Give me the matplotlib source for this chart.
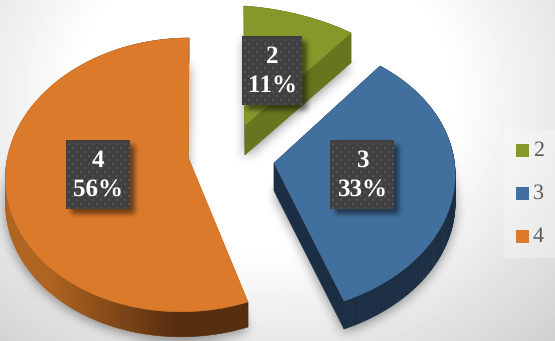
import numpy as np
import matplotlib
matplotlib.use('Agg')
import matplotlib.pyplot as plt
from matplotlib.path import Path
from matplotlib.patches import Polygon, Rectangle

plt.rcParams['text.hinting'] = 'no_hinting'
plt.rcParams['text.hinting_factor'] = 1

# chart data
categories = ['2', '3', '4']
shares = [11, 33, 56]

top_colors = ['#85992b', '#42709e', '#dc7a2b']
W, H = 555, 341

# pixel anchors of each slice: apex, arc start, arc middle, arc end
anchors = [
    [(245, 125), (244, 6), (300, 15), (351, 33)],
    [(274, 163), (380, 66), (454, 190), (344, 301)],
    [(188, 157), (248, 302), (8, 201), (189, 38)],
]
depths = [30, 28, 25]
boxes = [(242, 36, 60, 69), (330, 140, 64, 69), (66, 140, 64, 69)]
side_cut = ['#66761f', '#1b2e43', '#b5661f']
rim_light = ['#66761f', '#1b2e43', '#b0641f']
rim_dark = ['#66761f', '#1b2e43', '#562d0f']


def slice_outline(start, end, pts):
    # ellipse through three rim points; angles run clockwise from twelve o'clock
    ang = np.radians([start, (start + end) / 2, end])
    basis = np.column_stack([np.ones(3), np.sin(ang), np.cos(ang)])
    coef = np.linalg.solve(basis, np.array(pts[1:], float))
    t = np.radians(np.linspace(start, end, 160))
    return np.column_stack([np.ones_like(t), np.sin(t), np.cos(t)]) @ coef


def blur(a, r, passes=3):
    for axis in (0, 1):
        for _ in range(passes):
            pad = [(r + 1, r), (0, 0)] if axis == 0 else [(0, 0), (r + 1, r)]
            c = np.cumsum(np.pad(a, pad, mode='edge'), axis=axis)
            if axis == 0:
                a = (c[2 * r + 1:, :] - c[:-2 * r - 1, :]) / (2 * r + 1)
            else:
                a = (c[:, 2 * r + 1:] - c[:, :-2 * r - 1]) / (2 * r + 1)
    return a


xx, yy = np.meshgrid(np.arange(W) + .5, np.arange(H) + .5)
grid = np.column_stack([xx.ravel(), yy.ravel()])


def mask_of(poly):
    return Path(poly).contains_points(grid).reshape(H, W).astype(float)


def draw_shadow(ax, mask, alpha, z):
    rgba = np.zeros((H, W, 4))
    rgba[..., 3] = np.clip(mask, 0, 1) * alpha
    ax.imshow(rgba, extent=(0, W, H, 0), zorder=z, aspect='auto', interpolation='bilinear')


fig = plt.figure(figsize=(W / 100, H / 100), dpi=100)
ax = fig.add_axes([0, 0, 1, 1])

# white glow in the middle fading to grey corners
r = np.sqrt(((xx - 265) / 300) ** 2 + ((yy - 95) / 250) ** 2)
bg = 255 - np.clip((r - .62) * 62, 0, 48)
ax.imshow(bg, extent=(0, W, H, 0), cmap='gray', vmin=0, vmax=255, zorder=0, aspect='auto')

# slice angles from the shares
total = float(sum(shares))
starts = [0.0]
for s in shares:
    starts.append(starts[-1] + 360.0 * s / total)

outlines = []
for i in range(len(shares)):
    outlines.append(slice_outline(starts[i], starts[i + 1], anchors[i]))

# soft shadow under the whole pie
shadow = np.zeros((H, W))
for i, arc in enumerate(outlines):
    poly = np.vstack([anchors[i][0], arc]) + [0, depths[i] + 3]
    shadow = np.maximum(shadow, mask_of(poly))
draw_shadow(ax, blur(shadow, 5), .42, 1)

for i, arc in enumerate(outlines):
    apex = np.array(anchors[i][0], float)
    d = depths[i]
    z = 2 + i * 0.1
    # cut faces
    for p in (arc[0], arc[-1]):
        q = np.array([apex, p, p + [0, d], apex + [0, d]])
        ax.add_patch(Polygon(q, closed=True, fc=side_cut[i], ec=side_cut[i], lw=.3, zorder=z))
    # outer rim, shaded from left to right
    x0, x1 = arc[:, 0].min(), arc[:, 0].max()
    c0 = np.array(matplotlib.colors.to_rgb(rim_light[i]))
    c1 = np.array(matplotlib.colors.to_rgb(rim_dark[i]))
    for a, b in zip(arc[:-1], arc[1:]):
        f = np.clip((a[0] - x0) / (x1 - x0) * 1.9 - .35, 0, 1)
        col = c0 * (1 - f) + c1 * f
        q = np.array([a, b, b + [0, d], a + [0, d]])
        ax.add_patch(Polygon(q, closed=True, fc=col, ec=col, lw=.4, zorder=z))
    ax.add_patch(Polygon(np.vstack([apex, arc]), closed=True, fc=top_colors[i],
                         ec=top_colors[i], lw=.3, zorder=z + .05))

# data labels on dotted dark boxes
for i, (x, y, w, h) in enumerate(boxes):
    m = np.zeros((H, W))
    m[y + 5:y + h + 5, x + 5:x + w + 5] = 1
    draw_shadow(ax, blur(m, 2), .5, 3)
    ax.add_patch(Rectangle((x, y), w, h, fc='#404040', ec='none', zorder=4))
    dx = []; dy = []
    for row, yd in enumerate(np.arange(y + 4, y + h, 4.0)):
        for xd in np.arange(x + 3 + (row % 2) * 4, x + w, 8.0):
            dx.append(xd); dy.append(yd)
    ax.scatter(dx, dy, s=3, marker='s', c='#555555', linewidths=0, zorder=4.1)
    ax.text(x + w / 2, y + 21, categories[i], color='white', fontsize=18, family='Liberation Serif',
            weight='bold', ha='center', va='center', zorder=5)
    ax.text(x + w / 2, y + 50, '%d%%' % shares[i], color='white', fontsize=18, family='Liberation Serif',
            weight='bold', ha='center', va='center', zorder=5)

# legend
ax.add_patch(Rectangle((504, 129), 51, 129, fc='#ffffff', alpha=.3, ec='none', zorder=1.5))
for i, yl in enumerate([144, 187, 230]):
    ax.add_patch(Rectangle((516, yl), 13, 13, fc=top_colors[i], ec='none', zorder=2))
    ax.text(533, yl + 6.5, categories[i], color='#595959', fontsize=16, family='Liberation Serif',
            ha='left', va='center', zorder=2)

ax.set_xlim(0, W)
ax.set_ylim(H, 0)
ax.axis('off')
fig.savefig('out.png', dpi=100)
